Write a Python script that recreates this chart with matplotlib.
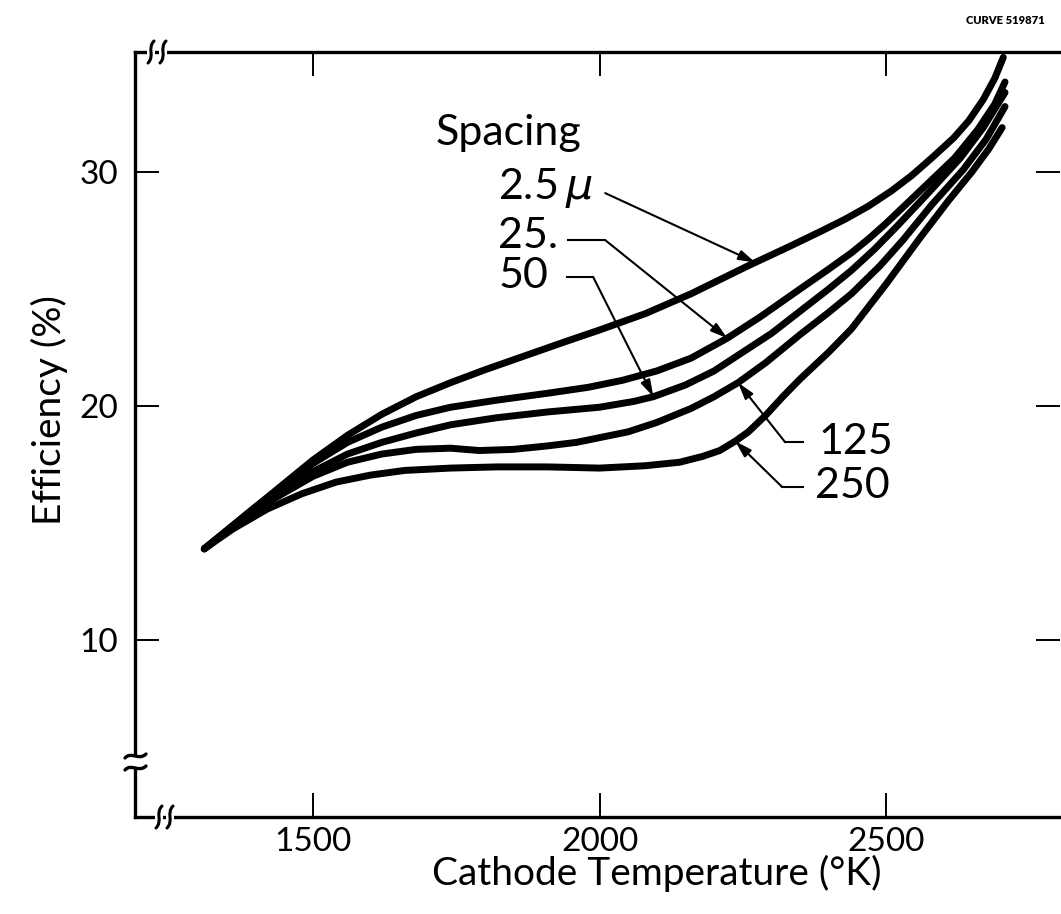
import numpy as np
import matplotlib
matplotlib.use("Agg")
import matplotlib.pyplot as plt
from matplotlib.path import Path
from matplotlib.patches import PathPatch, Rectangle

# cathode temperature (K) vs efficiency (%) for each spacing
temp_2_5 = [1310, 1400, 1500, 1560, 1620, 1680, 1740, 1800, 1870, 1940, 2000, 2080, 2160,
            2260, 2330, 2385, 2430, 2470, 2510, 2545, 2580, 2618, 2645, 2670, 2690, 2705]
eff_2_5 = [13.9, 15.7, 17.7, 18.75, 19.65, 20.4, 21.0, 21.55, 22.15, 22.75, 23.25, 23.95, 24.8,
           26.0, 26.8, 27.45, 28.0, 28.55, 29.2, 29.85, 30.6, 31.45, 32.2, 33.1, 34.0, 34.9]

temp_25 = [1310, 1400, 1500, 1560, 1620, 1680, 1740, 1820, 1910, 1980, 2040, 2100, 2160,
           2223, 2280, 2350, 2400, 2440, 2470, 2500, 2560, 2620, 2660, 2690, 2708]
eff_25 = [13.9, 15.7, 17.55, 18.45, 19.1, 19.6, 19.95, 20.25, 20.55, 20.8, 21.1, 21.5, 22.05,
          22.9, 23.8, 25.0, 25.85, 26.55, 27.15, 27.8, 29.2, 30.6, 31.8, 32.9, 33.85]

temp_50 = [1310, 1400, 1500, 1560, 1620, 1680, 1740, 1820, 1910, 2000, 2060, 2094, 2150,
           2200, 2250, 2300, 2350, 2400, 2440, 2480, 2520, 2570, 2630, 2670, 2708]
eff_50 = [13.9, 15.65, 17.2, 17.95, 18.45, 18.85, 19.2, 19.5, 19.75, 19.95, 20.2, 20.4, 20.9,
          21.5, 22.3, 23.1, 24.05, 25.0, 25.8, 26.7, 27.7, 29.0, 30.6, 31.9, 33.4]

temp_125 = [1310, 1400, 1500, 1560, 1620, 1680, 1740, 1790, 1850, 1910, 1960, 2000, 2050, 2100,
            2160, 2200, 2242, 2290, 2350, 2400, 2440, 2490, 2530, 2580, 2635, 2675, 2708]
eff_125 = [13.9, 15.6, 17.0, 17.6, 17.95, 18.15, 18.2, 18.1, 18.15, 18.3, 18.45, 18.65, 18.9, 19.3,
           19.9, 20.4, 21.0, 21.85, 23.05, 24.0, 24.8, 26.0, 27.1, 28.6, 30.1, 31.4, 32.8]

temp_250 = [1310, 1360, 1420, 1480, 1540, 1600, 1660, 1740, 1820, 1910, 2000, 2080, 2140, 2180,
            2210, 2237, 2260, 2290, 2320, 2350, 2400, 2440, 2500, 2560, 2610, 2650, 2680, 2703]
eff_250 = [13.9, 14.75, 15.6, 16.25, 16.75, 17.05, 17.25, 17.35, 17.4, 17.4, 17.35, 17.45, 17.6, 17.85,
           18.1, 18.5, 18.9, 19.6, 20.4, 21.15, 22.3, 23.3, 25.2, 27.2, 28.8, 30.0, 31.0, 31.9]

x_ticks = [1500, 2000, 2500]
y_ticks = [10, 20, 30]

W, H = 1061, 914
plt.rcParams["font.family"] = ["Lato", "DejaVu Sans"]

fig = plt.figure(figsize=(W / 100, H / 100), dpi=100)
ax = fig.add_axes([135 / W, 1 - 817 / H, 925 / W, 765 / H])

curves = [
    (temp_2_5, eff_2_5),
    (temp_25, eff_25),
    (temp_50, eff_50),
    (temp_125, eff_125),
    (temp_250, eff_250),
]
for t, e in curves:
    ax.plot(t, e, color="black", lw=5.0, solid_capstyle="round", solid_joinstyle="round")

ax.set_xlim(1189, 2804)
ax.set_ylim(2.44, 35.13)
ax.set_xticks(x_ticks)
ax.set_yticks(y_ticks)
ax.tick_params(direction="in", length=17, width=1.4, top=True, right=True,
               labelsize=24, pad=7)
ax.tick_params(axis="y", pad=12)
for s in ["left", "top", "bottom"]:
    ax.spines[s].set_linewidth(2.4)
ax.spines["right"].set_visible(False)

ax.set_xlabel("Cathode Temperature (°K)", fontsize=28, va="top")
ax.xaxis.set_label_coords(0.564, -0.05)
ax.set_ylabel("Efficiency (%)", fontsize=28)
ax.yaxis.set_label_coords(-0.072, 0.532)

# labels and leaders
lbl_fs = 31
ax.text(1713, 31.15, "Spacing", fontsize=lbl_fs, ha="left", va="baseline")
ax.text(1823, 29.3, "2.5" + r"$\,\mu$", fontsize=lbl_fs, ha="left", va="center")
ax.text(1823, 27.25, "25.", fontsize=lbl_fs, ha="left", va="center")
ax.text(1823, 25.55, "50", fontsize=lbl_fs, ha="left", va="center")
ax.text(2382, 18.46, "125", fontsize=lbl_fs, ha="left", va="center")
ax.text(2377, 16.58, "250", fontsize=lbl_fs, ha="left", va="center")

leaders = [
    # (path points before tip, curve, temperature at arrow tip)
    ([(2010, 29.10)], curves[0], 2272),
    ([(1945, 27.09), (2010, 27.09)], curves[1], 2223),
    ([(1944, 25.51), (1989, 25.51)], curves[2], 2094),
    ([(2356, 18.46), (2324, 18.46)], curves[3], 2242),
    ([(2356, 16.54), (2319, 16.54)], curves[4], 2237),
]
for pts, (t, e), t_tip in leaders:
    tip = (t_tip, float(np.interp(t_tip, t, e)))
    if len(pts) > 1:
        ax.plot([p[0] for p in pts], [p[1] for p in pts], color="black", lw=1.5)
    ax.annotate("", xy=tip, xytext=pts[-1],
                arrowprops=dict(arrowstyle="-|>,head_length=1.0,head_width=0.3",
                                color="black", lw=1.5, shrinkA=0, shrinkB=0))


def px(x, y):
    return (x / W, 1 - y / H)


def add_path(verts, codes, lw=2.0):
    p = Path([px(*v) for v in verts], codes)
    fig.add_artist(PathPatch(p, fill=False, lw=lw, color="black",
                             transform=fig.transFigure, capstyle="round"))


curve4 = [Path.MOVETO, Path.CURVE4, Path.CURVE4, Path.CURVE4]

# break marks on top and bottom spines
for x0, y0 in [(151, 52), (163, 52), (159, 817), (170, 817)]:
    fig.add_artist(Rectangle(px(x0 - 4, y0 + 3), 8 / W, 6 / H, color="white",
                             transform=fig.transFigure, lw=0))
    add_path([(x0 - 3, y0 + 11), (x0 + 4, y0 + 4), (x0 - 4, y0 - 4), (x0 + 3, y0 - 11)],
             curve4, lw=2.2)

# break on y axis
fig.add_artist(Rectangle(px(130, 768), 10 / W, 12 / H, color="white",
                         transform=fig.transFigure, lw=0))
for y0 in [756, 768]:
    add_path([(125, y0 + 2), (131, y0 - 5), (139, y0 + 5), (146, y0 - 2)], curve4, lw=2.4)

fig.text(1045 / W, 1 - 20 / H, "CURVE 519871", fontsize=8, fontweight="heavy",
         ha="right", va="center")

fig.savefig("out.png", dpi=100)
